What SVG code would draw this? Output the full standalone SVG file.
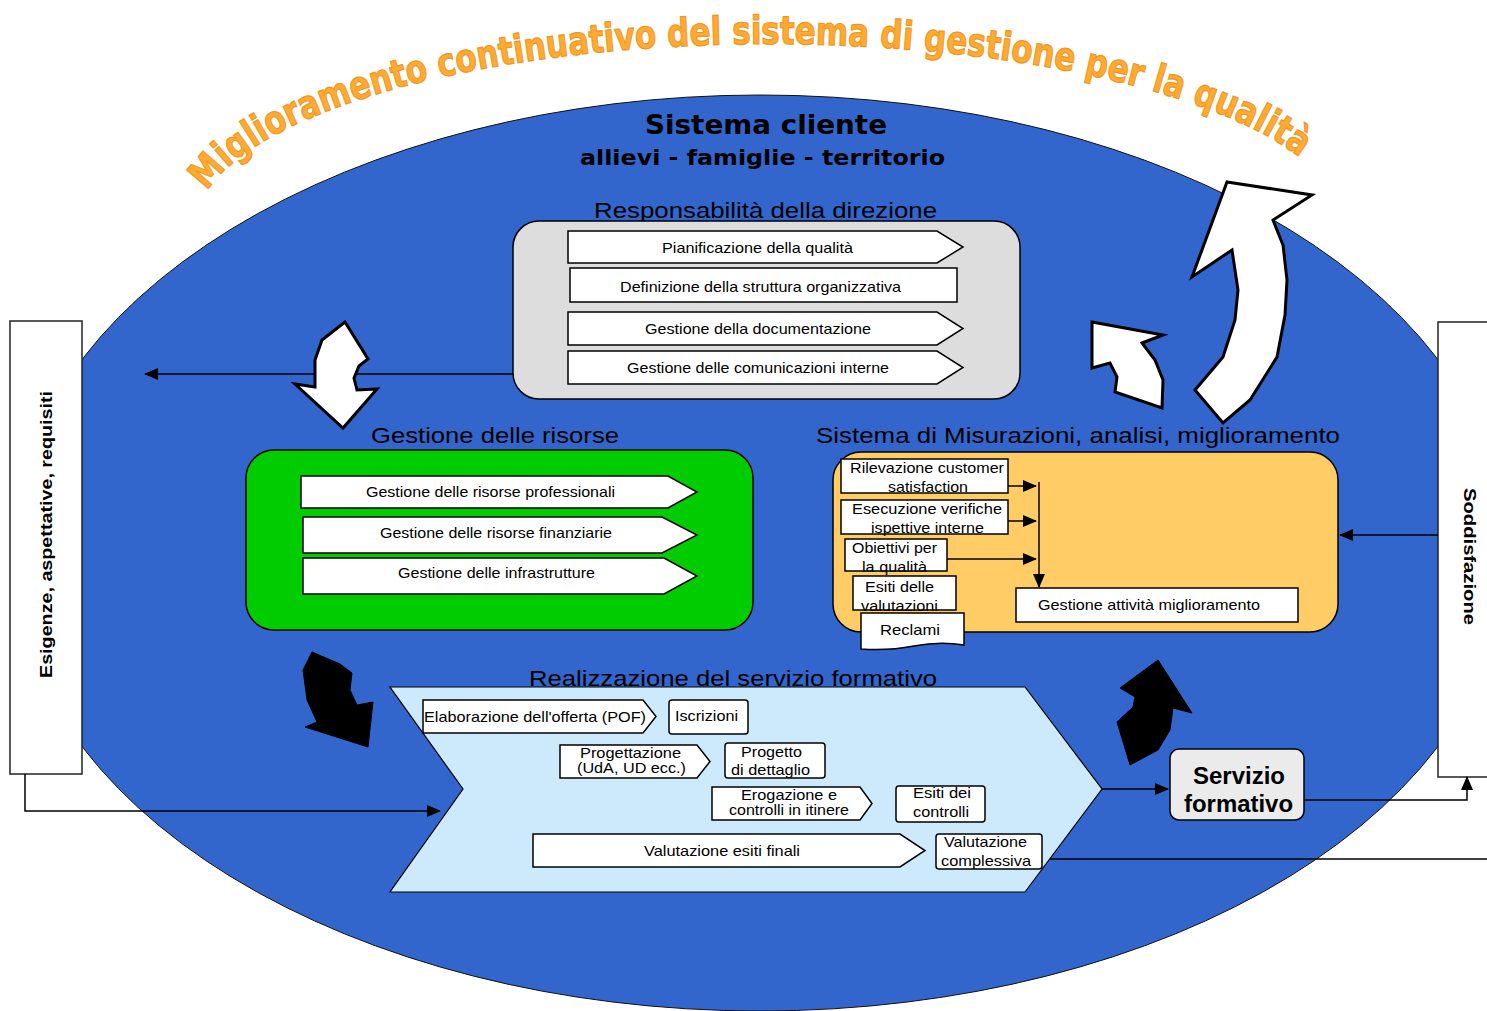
<svg xmlns="http://www.w3.org/2000/svg" width="1487" height="1011" viewBox="0 0 1487 1011">
<style>
.bg{fill:#fff}
.item{fill:#fff;stroke:#000;stroke-width:1.5}
.t{font-family:"Liberation Sans",Arial,sans-serif;font-size:15px;fill:#000;text-anchor:middle}
.title{font-family:"Liberation Sans",Arial,sans-serif;font-size:22px;fill:#000;text-anchor:middle}
.heavy{font-family:"DejaVu Sans",Arial,sans-serif;font-weight:bold;fill:#000;text-anchor:middle}
.conn{stroke:#000;stroke-width:1.5;fill:none}
.warr{fill:#fff;stroke:#000;stroke-width:3;stroke-linejoin:miter}
.barr{fill:#000;stroke:#000;stroke-width:1}
.bar{fill:#fff;stroke:#222;stroke-width:1.5}
.side{font-family:"Liberation Sans",Arial,sans-serif;font-weight:bold;font-size:17px;fill:#000;text-anchor:middle}
</style>
<defs>
<marker id="ah" markerWidth="14" markerHeight="12" refX="13" refY="6" orient="auto" markerUnits="userSpaceOnUse">
<path d="M0,0 L14,6 L0,12 Z" fill="#000"/>
</marker>
<path id="arc" d="M 195,229 A 575 185 0 0 1 1345,229"/>
</defs>
<rect class="bg" x="0" y="0" width="1487" height="1011"/>

<g id="ellipse">
<ellipse cx="760" cy="553" rx="748" ry="458" fill="#3366CC" stroke="#111" stroke-width="1"/>
</g>

<g id="arc-title">
<text font-family="'DejaVu Sans',Arial,sans-serif" font-weight="bold" font-size="39" fill="#FFAA33" stroke="#F0961E" stroke-width="1.2"><textPath href="#arc" startOffset="40" textLength="1146" lengthAdjust="spacingAndGlyphs">Miglioramento continuativo del sistema di gestione per la qualità</textPath></text>
</g>

<g id="cliente">
<text class="heavy" x="766" y="134" font-size="26" textLength="242" lengthAdjust="spacingAndGlyphs">Sistema cliente</text>
<text class="heavy" x="762.5" y="165" font-size="22" textLength="365" lengthAdjust="spacingAndGlyphs">allievi - famiglie - territorio</text>
</g>

<g id="esigenze">
<rect class="bar" x="10" y="321" width="72" height="453"/>
<text class="side" transform="translate(52,534.5) rotate(-90)" textLength="287" lengthAdjust="spacingAndGlyphs">Esigenze, aspettative, requisiti</text>
</g>

<g id="soddisfazione">
<rect class="bar" x="1438" y="322" width="60" height="455"/>
<text class="side" transform="translate(1464,556.5) rotate(90)" textLength="137" lengthAdjust="spacingAndGlyphs">Soddisfazione</text>
</g>

<g id="connectors">
<path class="conn" d="M513,374 H145" marker-end="url(#ah)"/>
<path class="conn" d="M25,774 V811 H440" marker-end="url(#ah)"/>
<path class="conn" d="M1102,789 H1168" marker-end="url(#ah)"/>
<path class="conn" d="M1304,800 H1467 V777" marker-end="url(#ah)"/>
<path class="conn" d="M1042,859 H1487"/>
<path class="conn" d="M1438,535 H1340" marker-end="url(#ah)"/>
</g>

<g id="responsabilita">
<text class="title" x="765.5" y="218" textLength="343" lengthAdjust="spacingAndGlyphs">Responsabilità della direzione</text>
<rect x="513" y="221" width="507" height="178" rx="26" fill="#DDDDDD" stroke="#000" stroke-width="1.5"/>
<polygon class="item" points="568,231 937,231 963,247 937,263 568,263"/>
<text class="t" x="757.5" y="253" textLength="191" lengthAdjust="spacingAndGlyphs">Pianificazione della qualità</text>
<rect class="item" x="570" y="268" width="387" height="34"/>
<text class="t" x="760.5" y="292" textLength="281" lengthAdjust="spacingAndGlyphs">Definizione della struttura organizzativa</text>
<polygon class="item" points="568,312 937,312 963,328.5 937,345 568,345"/>
<text class="t" x="758" y="334" textLength="226" lengthAdjust="spacingAndGlyphs">Gestione della documentazione</text>
<polygon class="item" points="568,351 937,351 963,367.5 937,384 568,384"/>
<text class="t" x="758" y="373" textLength="262" lengthAdjust="spacingAndGlyphs">Gestione delle comunicazioni interne</text>
</g>

<g id="risorse">
<text class="title" x="495" y="443" textLength="248" lengthAdjust="spacingAndGlyphs">Gestione delle risorse</text>
<rect x="246" y="450" width="507" height="180" rx="28" fill="#00CC00" stroke="#000" stroke-width="1.5"/>
<polygon class="item" points="301,476 668,476 697,492 668,508 301,508"/>
<text class="t" x="490.5" y="497" textLength="249" lengthAdjust="spacingAndGlyphs">Gestione delle risorse professionali</text>
<polygon class="item" points="303,517 662,517 697,535 662,553 303,553"/>
<text class="t" x="496" y="538" textLength="232" lengthAdjust="spacingAndGlyphs">Gestione delle risorse finanziarie</text>
<polygon class="item" points="303,558 664,558 697,576 664,594 303,594"/>
<text class="t" x="496.5" y="578" textLength="197" lengthAdjust="spacingAndGlyphs">Gestione delle infrastrutture</text>
</g>

<g id="misurazioni">
<text class="title" x="1078" y="443" textLength="524" lengthAdjust="spacingAndGlyphs">Sistema di Misurazioni, analisi, miglioramento</text>
<rect x="833" y="452" width="505" height="180" rx="28" fill="#FFCC66" stroke="#000" stroke-width="1.5"/>
<rect class="item" x="841" y="459" width="167" height="34"/>
<text class="t" x="927" y="473" textLength="154" lengthAdjust="spacingAndGlyphs">Rilevazione customer</text>
<text class="t" x="928" y="492" textLength="80" lengthAdjust="spacingAndGlyphs">satisfaction</text>
<rect class="item" x="841" y="500" width="167" height="34"/>
<text class="t" x="927" y="514" textLength="150" lengthAdjust="spacingAndGlyphs">Esecuzione verifiche</text>
<text class="t" x="927.5" y="533" textLength="113" lengthAdjust="spacingAndGlyphs">ispettive interne</text>
<rect class="item" x="845" y="539" width="102" height="32"/>
<text class="t" x="894.5" y="553" textLength="85" lengthAdjust="spacingAndGlyphs">Obiettivi per</text>
<text class="t" x="894.5" y="572" textLength="65" lengthAdjust="spacingAndGlyphs">la qualità</text>
<rect class="item" x="853" y="576" width="103" height="34"/>
<text class="t" x="899.5" y="592" textLength="69" lengthAdjust="spacingAndGlyphs">Esiti delle</text>
<text class="t" x="899.5" y="611" textLength="77" lengthAdjust="spacingAndGlyphs">valutazioni</text>
<path class="item" d="M861,613 H964 V645 Q940,641 914,646 T861,649 Z"/>
<text class="t" x="910" y="635" textLength="60" lengthAdjust="spacingAndGlyphs">Reclami</text>
<rect class="item" x="1016" y="588" width="282" height="34"/>
<text class="t" x="1149" y="610" textLength="222" lengthAdjust="spacingAndGlyphs">Gestione attività miglioramento</text>
<path class="conn" d="M1008,486 H1036" marker-end="url(#ah)"/>
<path class="conn" d="M1008,521 H1036" marker-end="url(#ah)"/>
<path class="conn" d="M947,559 H1036" marker-end="url(#ah)"/>
<path class="conn" d="M1039,482 V587" marker-end="url(#ah)"/>
</g>

<g id="realizzazione">
<text class="title" x="733" y="686" textLength="408" lengthAdjust="spacingAndGlyphs">Realizzazione del servizio formativo</text>
<polygon points="390,687 1025,687 1102,789 1025,892 390,892 463,789" fill="#CCEAFC" stroke="#000" stroke-width="1.2"/>
<polygon class="item" points="423,700 643,700 656,716.5 643,733 423,733"/>
<text class="t" x="535" y="722" textLength="222" lengthAdjust="spacingAndGlyphs">Elaborazione dell'offerta (POF)</text>
<rect class="item" x="669" y="700" width="79" height="34" rx="3"/>
<text class="t" x="706.5" y="721" textLength="63" lengthAdjust="spacingAndGlyphs">Iscrizioni</text>
<polygon class="item" points="560,745 697,745 710,761.5 697,778 560,778"/>
<text class="t" x="630.5" y="758" textLength="101" lengthAdjust="spacingAndGlyphs">Progettazione</text>
<text class="t" x="631.5" y="773" textLength="109" lengthAdjust="spacingAndGlyphs">(UdA, UD ecc.)</text>
<rect class="item" x="725" y="743" width="100" height="35" rx="3"/>
<text class="t" x="771.5" y="757" textLength="61" lengthAdjust="spacingAndGlyphs">Progetto</text>
<text class="t" x="770.5" y="775" textLength="79" lengthAdjust="spacingAndGlyphs">di dettaglio</text>
<polygon class="item" points="712,787 860,787 872,803.5 860,820 712,820"/>
<text class="t" x="789" y="800" textLength="96" lengthAdjust="spacingAndGlyphs">Erogazione e</text>
<text class="t" x="789" y="815" textLength="120" lengthAdjust="spacingAndGlyphs">controlli in itinere</text>
<rect class="item" x="896" y="786" width="89" height="36" rx="3"/>
<text class="t" x="942" y="798" textLength="58" lengthAdjust="spacingAndGlyphs">Esiti dei</text>
<text class="t" x="941" y="817" textLength="56" lengthAdjust="spacingAndGlyphs">controlli</text>
<polygon class="item" points="533,834 900,834 925,850.5 900,867 533,867"/>
<text class="t" x="722" y="856" textLength="156" lengthAdjust="spacingAndGlyphs">Valutazione esiti finali</text>
<rect class="item" x="936" y="834" width="106" height="35" rx="3"/>
<text class="t" x="985.5" y="847" textLength="83" lengthAdjust="spacingAndGlyphs">Valutazione</text>
<text class="t" x="986" y="866" textLength="90" lengthAdjust="spacingAndGlyphs">complessiva</text>
</g>

<g id="servizio">
<rect x="1170" y="749" width="134" height="71" rx="9" fill="#EBEBEB" stroke="#000" stroke-width="1.5"/>
<text x="1239" y="784" font-family="'Liberation Sans',Arial,sans-serif" font-weight="bold" font-size="23" text-anchor="middle" textLength="92" lengthAdjust="spacingAndGlyphs">Servizio</text>
<text x="1238.5" y="812" font-family="'Liberation Sans',Arial,sans-serif" font-weight="bold" font-size="23" text-anchor="middle" textLength="109" lengthAdjust="spacingAndGlyphs">formativo</text>
</g>

<g id="flow-arrows">
<polygon class="warr" points="345,322 368,359 359,366 354,378 357,390 377,389 343,428 295,384 315,387 315,360 322,340"/>
<polygon class="barr" points="312,652 340,664 352,673 350,690 357,705 373,702 368,747 305,727 317,722 307,700 303,670"/>
<polygon class="warr" points="1092,322 1163,335 1142,343 1155,360 1163,380 1162,408 1115,392 1117,377 1110,363 1092,368"/>
<polygon class="warr" points="1227,182 1312,195 1273,220 1283,245 1287,280 1285,315 1277,357 1250,400 1223,423 1195,390 1223,357 1235,320 1238,290 1232,250 1192,277"/>
<polygon class="barr" points="1158,660 1192,713 1173,708 1170,730 1158,750 1130,765 1117,722 1133,707 1135,697 1120,688"/>
</g>
</svg>
